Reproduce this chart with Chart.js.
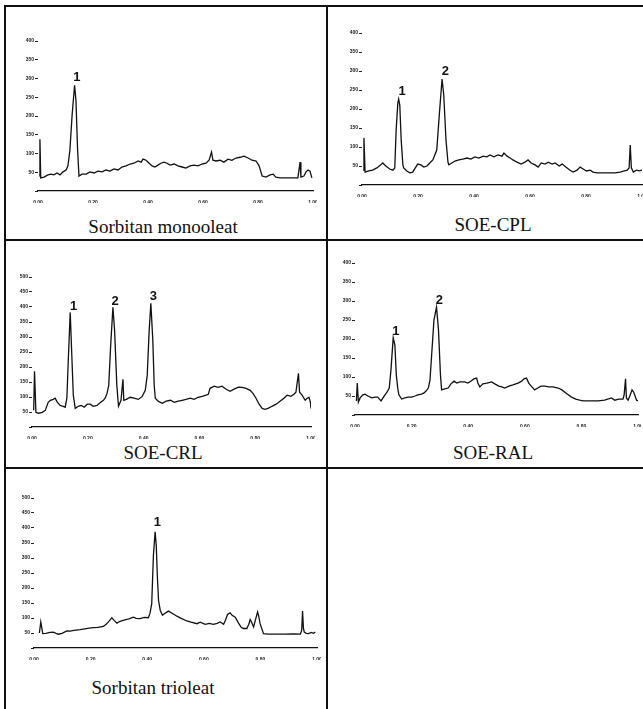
<!DOCTYPE html>
<html>
<head>
<meta charset="utf-8">
<script src="https://cdn.jsdelivr.net/npm/chart.js@4.4.0/dist/chart.umd.min.js"></script>
<style>
html, body { margin: 0; padding: 0; background: #fff; overflow: hidden; }
#page { position: relative; width: 643px; height: 709px; overflow: hidden; }
.rule { position: absolute; background: #111; }
canvas { position: absolute; }
.cap { position: absolute; font-family: "Liberation Serif", "Times New Roman", serif; font-size: 19px;
       line-height: 19px; white-space: nowrap; transform: translateX(-50%); color: #111; }
</style>
</head>
<body>
<div id="page"></div>
<script>
// retention time (fraction of run) and detector signal

// Sorbitan monooleat
const monoTime = [0.005,0.007,0.010,0.022,0.036,0.047,0.058,0.069,0.080,0.091,0.102,0.109,0.116,0.124,0.133,0.138,0.144,0.149,0.160,0.175,0.189,0.204,0.218,0.233,0.247,0.262,0.276,0.291,0.305,0.320,0.335,0.349,0.364,0.375,0.382,0.393,0.404,0.415,0.425,0.436,0.447,0.458,0.469,0.480,0.495,0.509,0.524,0.538,0.553,0.567,0.582,0.596,0.611,0.622,0.631,0.636,0.647,0.662,0.676,0.691,0.705,0.720,0.735,0.749,0.764,0.778,0.793,0.804,0.815,0.829,0.844,0.855,0.865,0.880,0.916,0.945,0.953,0.956,0.967,0.975,0.982,0.989,0.996];
const monoSignal = [40,138,35,37,43,45,43,48,43,51,56,67,109,202,282,242,109,40,45,45,51,48,53,51,56,53,59,56,64,67,72,74,80,77,85,82,74,67,64,69,74,77,74,69,72,67,64,61,67,69,67,72,74,82,104,82,80,82,77,85,82,88,90,93,88,82,80,67,40,37,43,45,37,35,35,35,77,37,40,51,56,53,35];
const monoPeakTime = [0.141];
const monoPeakSignal = [302];
const monoPeakText = ['1'];

// SOE-CPL
const cplTime = [0.004,0.007,0.011,0.024,0.038,0.053,0.067,0.074,0.085,0.099,0.110,0.117,0.122,0.128,0.131,0.135,0.140,0.146,0.149,0.160,0.171,0.181,0.192,0.199,0.210,0.221,0.232,0.242,0.253,0.260,0.267,0.276,0.286,0.292,0.300,0.307,0.310,0.321,0.332,0.346,0.360,0.375,0.389,0.403,0.418,0.432,0.446,0.457,0.471,0.486,0.500,0.507,0.518,0.529,0.539,0.554,0.568,0.582,0.593,0.604,0.618,0.629,0.640,0.654,0.665,0.679,0.690,0.704,0.715,0.729,0.743,0.754,0.768,0.779,0.790,0.801,0.815,0.825,0.840,0.868,0.904,0.922,0.937,0.947,0.954,0.958,0.962,0.969,0.980,0.990,1.000];
const cplSignal = [39,124,34,37,39,45,53,58,50,42,39,45,145,216,226,210,118,53,45,37,32,34,47,55,53,47,50,58,66,79,92,184,279,237,118,60,53,58,63,66,68,71,68,74,71,76,74,79,74,79,76,84,76,71,66,60,55,60,66,58,53,47,58,55,60,55,58,50,55,47,39,34,39,47,42,37,39,34,32,32,32,34,37,39,45,105,45,34,39,37,39];
const cplPeakTime = [0.143, 0.298];
const cplPeakSignal = [245, 300];
const cplPeakText = ['1', '2'];

// SOE-CRL
const crlTime = [0.006,0.009,0.014,0.023,0.037,0.048,0.058,0.066,0.076,0.083,0.091,0.101,0.112,0.119,0.125,0.130,0.137,0.142,0.148,0.155,0.166,0.177,0.187,0.198,0.209,0.219,0.233,0.245,0.256,0.262,0.269,0.275,0.282,0.290,0.296,0.304,0.310,0.319,0.326,0.329,0.338,0.352,0.366,0.381,0.395,0.406,0.413,0.420,0.426,0.433,0.438,0.442,0.452,0.467,0.481,0.496,0.510,0.524,0.538,0.552,0.567,0.581,0.595,0.610,0.624,0.632,0.638,0.653,0.667,0.681,0.696,0.710,0.724,0.740,0.753,0.767,0.782,0.792,0.803,0.814,0.825,0.835,0.846,0.860,0.875,0.889,0.903,0.914,0.928,0.939,0.946,0.955,0.959,0.968,0.979,0.986,0.993,0.998,1.000];
const crlSignal = [56,186,49,46,49,56,82,89,92,96,82,72,69,66,96,222,382,256,106,62,69,72,66,76,76,69,72,82,89,96,112,139,272,399,322,139,69,89,159,89,92,99,96,92,102,122,172,322,412,289,139,96,86,79,86,89,82,86,89,92,96,92,99,102,106,109,129,136,132,136,126,119,126,133,132,129,122,112,96,76,62,59,62,69,76,86,96,106,102,109,116,179,116,106,89,96,99,82,62];
const crlPeakTime = [0.149, 0.298, 0.435];
const crlPeakSignal = [402, 420, 436];
const crlPeakText = ['1', '2', '3'];

// SOE-RAL
const ralTime = [0.005,0.008,0.012,0.018,0.028,0.035,0.046,0.059,0.071,0.080,0.092,0.099,0.106,0.113,0.121,0.127,0.135,0.141,0.146,0.151,0.155,0.165,0.176,0.187,0.200,0.212,0.222,0.235,0.244,0.251,0.259,0.265,0.272,0.279,0.288,0.295,0.302,0.306,0.314,0.329,0.339,0.350,0.360,0.371,0.388,0.399,0.409,0.420,0.430,0.434,0.441,0.452,0.466,0.483,0.494,0.508,0.519,0.529,0.544,0.558,0.576,0.589,0.597,0.606,0.614,0.625,0.635,0.646,0.657,0.671,0.685,0.699,0.718,0.731,0.745,0.765,0.780,0.794,0.806,0.829,0.859,0.882,0.906,0.918,0.932,0.947,0.951,0.956,0.959,0.965,0.971,0.979,0.985,0.995,1.000];
const ralSignal = [37,84,34,45,53,55,50,45,47,47,37,45,53,60,71,118,203,184,105,71,53,42,45,47,47,50,53,55,58,63,71,92,171,250,284,224,105,66,68,71,82,89,84,87,87,84,89,95,97,84,74,82,84,87,82,76,74,71,76,79,84,89,95,97,84,74,66,71,76,76,74,74,71,66,58,47,42,39,37,37,37,39,45,39,42,42,53,95,45,39,50,66,60,39,37];
const ralPeakTime = [0.144, 0.298];
const ralPeakSignal = [221, 301];
const ralPeakText = ['1', '2'];

// Sorbitan trioleat
const trioTime = [0.019,0.024,0.031,0.042,0.057,0.068,0.078,0.086,0.099,0.116,0.127,0.141,0.163,0.180,0.195,0.210,0.226,0.245,0.255,0.263,0.275,0.283,0.293,0.304,0.315,0.328,0.340,0.351,0.361,0.375,0.389,0.404,0.410,0.416,0.422,0.428,0.432,0.436,0.440,0.446,0.454,0.463,0.475,0.488,0.505,0.520,0.540,0.555,0.576,0.587,0.605,0.619,0.634,0.647,0.658,0.670,0.676,0.684,0.693,0.700,0.711,0.723,0.732,0.740,0.752,0.759,0.764,0.769,0.776,0.782,0.790,0.794,0.799,0.811,0.828,0.859,0.888,0.916,0.941,0.946,0.949,0.952,0.955,0.962,0.970,0.980,0.987,0.994];
const trioSignal = [50,87,48,49,52,53,49,46,49,57,56,59,61,64,66,68,69,72,79,87,101,92,83,89,92,95,99,103,99,98,102,101,116,148,309,387,342,237,159,126,109,116,123,116,106,99,90,86,81,86,79,82,79,82,87,79,92,112,117,109,103,83,69,65,65,79,95,86,70,92,120,106,81,48,46,46,46,47,46,59,123,66,53,49,48,52,49,53];
const trioPeakTime = [0.436];
const trioPeakSignal = [417];
const trioPeakText = ['1'];

const xTickLabels = ['0.00', '0.20', '0.40', '0.60', '0.80', '1.00'];
const captions = ['Sorbitan monooleat', 'SOE-CPL', 'SOE-CRL', 'SOE-RAL', 'Sorbitan trioleat'];

// layout (page pixels): plot box L/R/T/B and caption centre
const AXIS_W = 22, AXIS_H = 12, PAD_T = 10;
const panels = [
  { time: monoTime, signal: monoSignal, pt: monoPeakTime, ps: monoPeakSignal, pl: monoPeakText, yMax: 400,
    L: 38, R: 313, T: 41, B: 191, padR: 4, capX: 163, capY: 227 },
  { time: cplTime, signal: cplSignal, pt: cplPeakTime, ps: cplPeakSignal, pl: cplPeakText, yMax: 400,
    L: 362, R: 642, T: 33, B: 185, padR: 1, capX: 493, capY: 225 },
  { time: crlTime, signal: crlSignal, pt: crlPeakTime, ps: crlPeakSignal, pl: crlPeakText, yMax: 500,
    L: 32, R: 311, T: 277, B: 427, padR: 4, capX: 163, capY: 453 },
  { time: ralTime, signal: ralSignal, pt: ralPeakTime, ps: ralPeakSignal, pl: ralPeakText, yMax: 400,
    L: 355, R: 638, T: 263, B: 415, padR: 3, capX: 493, capY: 453 },
  { time: trioTime, signal: trioSignal, pt: trioPeakTime, ps: trioPeakSignal, pl: trioPeakText, yMax: 500,
    L: 34, R: 317, T: 498, B: 648, padR: 4, capX: 153, capY: 688 }
];

const page = document.getElementById('page');

// table rules
[[5, 5, 638, 2], [4, 5, 2, 704], [326, 5, 2, 704], [5, 239, 638, 2], [5, 467, 638, 2]].forEach(r => {
  const d = document.createElement('div');
  d.className = 'rule';
  d.style.left = r[0] + 'px'; d.style.top = r[1] + 'px';
  d.style.width = r[2] + 'px'; d.style.height = r[3] + 'px';
  page.appendChild(d);
});

const peakLabels = {
  id: 'peakLabels',
  afterDatasetsDraw(chart, args, opts) {
    const ctx = chart.ctx;
    ctx.save();
    ctx.fillStyle = '#111';
    ctx.font = 'bold 13px "Liberation Sans", Arial, sans-serif';
    ctx.textAlign = 'center';
    ctx.textBaseline = 'middle';
    opts.t.forEach((t, i) => {
      ctx.fillText(opts.l[i], chart.scales.x.getPixelForValue(t), chart.scales.y.getPixelForValue(opts.s[i]));
    });
    ctx.restore();
  }
};

panels.forEach((p, k) => {
  const w = (p.R - p.L) + AXIS_W + p.padR;
  const h = PAD_T + (p.B - p.T) + AXIS_H;
  const cv = document.createElement('canvas');
  cv.width = w; cv.height = h;
  cv.style.width = w + 'px'; cv.style.height = h + 'px';
  cv.style.left = (p.L - AXIS_W) + 'px';
  cv.style.top = (p.T - PAD_T) + 'px';
  page.appendChild(cv);

  new Chart(cv, {
    type: 'line',
    data: {
      datasets: [{
        data: p.time.map((t, i) => ({ x: t, y: p.signal[i] })),
        borderColor: '#111',
        borderWidth: 1.3,
        pointRadius: 0,
        tension: 0,
        fill: false
      }]
    },
    options: {
      responsive: false,
      animation: false,
      layout: { padding: { top: PAD_T, right: p.padR, left: 0, bottom: 0 } },
      plugins: {
        legend: { display: false },
        tooltip: { enabled: false },
        peakLabels: { t: p.pt, s: p.ps, l: p.pl }
      },
      scales: {
        x: {
          type: 'linear', min: 0, max: 1,
          ticks: {
            stepSize: 0.2, maxRotation: 0, padding: 1,
            color: '#222', font: { family: 'Arial', size: 5, weight: 'bold' },
            callback: v => xTickLabels[Math.round(v * 5)]
          },
          grid: { display: false },
          border: { display: true, color: '#111', width: 1.2, dash: [3, 1] },
          afterFit(s) { s.height = AXIS_H; s.paddingLeft = 0; s.paddingRight = 0; }
        },
        y: {
          min: 0, max: p.yMax,
          ticks: {
            stepSize: 50, padding: 1,
            color: '#222', font: { family: 'Arial', size: 5, weight: 'bold' },
            callback: v => (v === 0 ? '' : String(v))
          },
          grid: { drawOnChartArea: false, drawTicks: true, tickLength: 3, color: '#222' },
          border: { display: false },
          afterFit(s) { s.width = AXIS_W; s.paddingTop = 0; s.paddingBottom = 0; }
        }
      }
    },
    plugins: [peakLabels]
  });

  const cap = document.createElement('div');
  cap.className = 'cap';
  cap.textContent = captions[k];
  cap.style.left = p.capX + 'px';
  cap.style.top = (p.capY - 10) + 'px';
  page.appendChild(cap);
});
</script>
</body>
</html>
